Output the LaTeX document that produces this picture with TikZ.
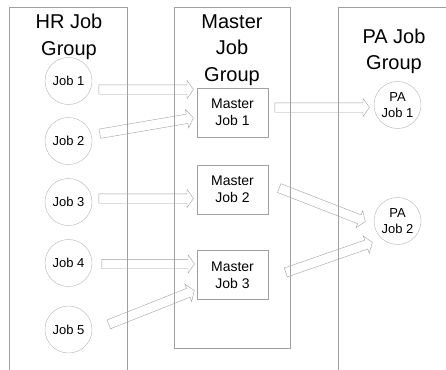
\documentclass[tikz,border=0pt]{standalone}
\usepackage{fontspec}
\setmainfont{Liberation Sans}
\usetikzlibrary{shapes.arrows,calc}
\definecolor{lineGray}{RGB}{160,160,160}
\definecolor{ringGray}{RGB}{180,180,180}

\begin{document}
\begin{tikzpicture}[x=1pt, y=-1pt,
    grp/.style={draw=lineGray},
    grptitle/.style={align=center, inner sep=0pt, font=\fontsize{20}{26.5}\selectfont},
    job/.style={circle, draw=ringGray, minimum size=47pt, inner sep=0pt, align=center, font=\fontsize{13}{16}\selectfont},
    mjob/.style={rectangle, draw=lineGray, minimum width=71pt, minimum height=49pt, inner sep=0pt, align=center, font=\fontsize{14}{17}\selectfont},
    blockarrow/.style={single arrow, draw=lineGray, inner xsep=0pt, inner ysep=4.5pt,
        single arrow head extend=4.5pt, single arrow tip angle=110, single arrow head indent=0pt}]
    \useasboundingbox (0,0) rectangle (446,369);

    % groups
    \begin{scope}
        \clip (0,0) rectangle (446,369);
        \draw[grp] (9,7) rectangle (127,380);
        \draw[grp] (174.5,7) rectangle (290.5,348);
        \draw[grp] (338,7) rectangle (460,380);
    \end{scope}
    \node[grptitle] (hrT) at (69,37) {HR Job\\Group};
    \node[grptitle] (msT) at (232,50) {Master\\Job\\Group};
    \node[grptitle] (paT) at (394,51.5) {PA Job\\Group};

    % HR jobs
    \node[job] (j1) at (68.5,81) {Job 1};
    \node[job] (j2) at (68.5,141) {Job 2};
    \node[job] (j3) at (68.5,202) {Job 3};
    \node[job] (j4) at (68.5,263) {Job 4};
    \node[job] (j5) at (68.5,329.5) {Job 5};

    % master jobs
    \node[mjob] (mj1) at (232.5,112.5) {Master\\Job 1};
    \node[mjob] (mj2) at (232.5,189.5) {Master\\Job 2};
    \node[mjob] (mj3) at (232.5,275) {Master\\Job 3};

    % PA jobs
    \node[job] (p1) at (397.5,105) {PA\\Job 1};
    \node[job] (p2) at (397.5,221) {PA\\Job 2};

    % arrow ends
    \coordinate (a1s) at ([shift={(5,8.5)}]j1.east);
    \coordinate (a1t) at ([shift={(-5,-23)}]mj1.west);
    \coordinate (a2s) at ([shift={(6,-7)}]j2.east);
    \coordinate (a2t) at ([shift={(-5,5.5)}]mj1.west);
    \coordinate (a3s) at ([shift={(5,-3.5)}]j3.east);
    \coordinate (a3t) at ([shift={(-5,9)}]mj2.west);
    \coordinate (a4s) at ([shift={(8,1)}]j4.east);
    \coordinate (a4t) at ([shift={(-4,-11)}]mj3.west);
    \coordinate (a5s) at ([shift={(15,-4.5)}]j5.east);
    \coordinate (a5t) at ([shift={(-4,16)}]mj3.west);
    \coordinate (a6s) at ([shift={(5,-5)}]mj1.east);
    \coordinate (a6t) at ([shift={(-6,2.5)}]p1.west);
    \coordinate (a7s) at ([shift={(9.5,-2)}]mj2.east);
    \coordinate (a7t) at ([shift={(-10,0)}]p2.west);
    \coordinate (a8s) at ([shift={(16,-2)}]mj3.east);
    \coordinate (a8t) at ([shift={(-3,22)}]p2.west);

    % arrows
    \foreach \s/\t in {a1s/a1t, a2s/a2t, a3s/a3t, a4s/a4t, a5s/a5t, a6s/a6t, a7s/a7t, a8s/a8t}
        \path let \p1 = ($(\t)-(\s)$), \n1 = {veclen(\x1,\y1)}, \n2 = {atan2(\y1,\x1)} in
            node[blockarrow, minimum height=\n1, rotate=\n2] at ($(\s)!0.5!(\t)$) {};

\end{tikzpicture}
\end{document}
